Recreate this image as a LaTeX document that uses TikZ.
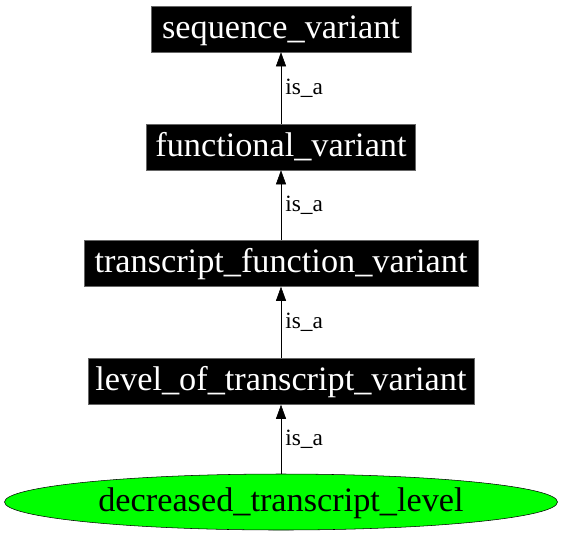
\documentclass[tikz,border=0pt]{standalone}
\usepackage{fontspec}
\setmainfont{Liberation Serif}
\usetikzlibrary{arrows.meta,shapes.geometric}
\tikzset{termbox/.style={draw=black!60, fill=black, text=white, inner sep=0pt, minimum height=34.5pt, text height=20pt, text depth=6.5pt, font=\fontsize{25.7}{28}\selectfont},
         leafterm/.style={draw=black, fill=green, ellipse, inner sep=0pt, minimum height=42pt, minimum width=414.75pt, text height=20pt, text depth=6.5pt, font=\fontsize{25.7}{28}\selectfont},
         isaedge/.style={black, -{Triangle[length=10.5pt,width=7.5pt]}},
         isalabel/.style={right, inner sep=3pt, font=\fontsize{17.5}{20}\selectfont}}

\begin{document}
\begin{tikzpicture}[x=0.75pt,y=-0.75pt]
   \useasboundingbox (0,0) rectangle (563,536);
   % terms
   \node[termbox, minimum width=195pt]   (sv)   at (281,29)    {sequence\_variant};
   \node[termbox, minimum width=201.75pt] (fv)   at (281,147)   {functional\_variant};
   \node[termbox, minimum width=295.5pt] (tfv)  at (281,263.5) {transcript\_function\_variant};
   \node[termbox, minimum width=289.5pt] (lotv) at (281,381.5) {level\_of\_transcript\_variant};
   \node[leafterm]                       (dtl)  at (281,502)   {decreased\_transcript\_level};
   % is_a edges
   \draw[isaedge] (fv)   -- (sv)   node[isalabel, pos=0.5] {is\_a};
   \draw[isaedge] (tfv)  -- (fv)   node[isalabel, pos=0.5] {is\_a};
   \draw[isaedge] (lotv) -- (tfv)  node[isalabel, pos=0.5] {is\_a};
   \draw[isaedge] (dtl)  -- (lotv) node[isalabel, pos=0.5] {is\_a};
\end{tikzpicture}
\end{document}
